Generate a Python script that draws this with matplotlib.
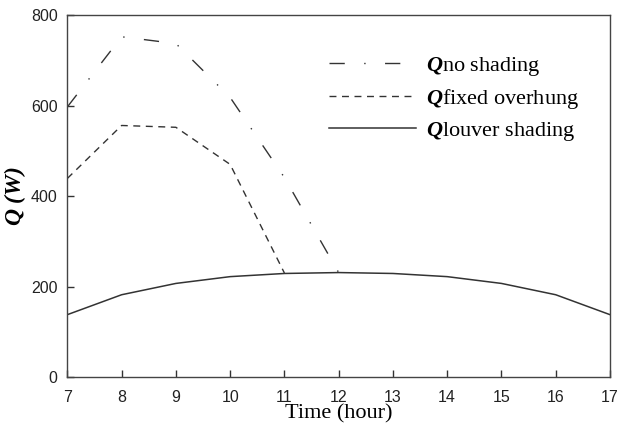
import numpy as np
import matplotlib
matplotlib.use('Agg')
import matplotlib.pyplot as plt

# Data
hours = [7, 8, 9, 10, 11, 12, 13, 14, 15, 16, 17]
hours_no = [7, 8, 9, 10, 11, 12]
q_no_shading = [597, 752, 737, 618, 441, 231]
hours_fixed = [7, 8, 9, 10, 11]
q_fixed = [439, 556, 552, 470, 230]
q_louver = [138, 182, 207, 222, 229, 231, 229, 222, 207, 182, 138]

labels = [r'$\mathbfit{Q}$no shading',
          r'$\mathbfit{Q}$fixed overhung',
          r'$\mathbfit{Q}$louver shading']

plt.rcParams['mathtext.fontset'] = 'custom'
plt.rcParams['mathtext.rm'] = 'Liberation Serif'
plt.rcParams['mathtext.bfit'] = 'Liberation Serif:bold:italic'
plt.rcParams['mathtext.it'] = 'Liberation Serif:italic'
plt.rcParams['mathtext.bf'] = 'Liberation Serif:bold'

fig = plt.figure(figsize=(6.18, 4.30), dpi=100)
ax = fig.add_axes([0.109, 0.123, 0.878, 0.842])

col = '#333333'
ax.plot(hours_no, q_no_shading, color=col, lw=1.0, linestyle=(0, (11, 14, 1, 14)), label=labels[0])
ax.plot(hours_fixed, q_fixed, color=col, lw=1.0, linestyle=(0, (5, 4)), label=labels[1])
ax.plot(hours, q_louver, color=col, lw=1.1, linestyle='-', label=labels[2])

ax.set_xlim(7, 17)
ax.set_ylim(0, 800)
ax.set_xticks(hours)
ax.set_yticks([0, 200, 400, 600, 800])
ax.tick_params(direction='in', length=5, width=1, colors='#333333', labelsize=11.5)
ax.tick_params(axis='x', pad=9)
ax.tick_params(axis='y', pad=7)
for lab in ax.get_xticklabels() + ax.get_yticklabels():
    lab.set_family('Liberation Sans')
    lab.set_color('#222222')
for s in ax.spines.values():
    s.set_color('#444444')
    s.set_linewidth(1.0)

ax.set_xlabel('Time (hour)', family='Liberation Serif', fontsize=16, labelpad=0)
ax.set_ylabel(r'$\mathbfit{Q\ (W)}$', fontsize=17, labelpad=2)

leg = ax.legend(loc='upper right', bbox_to_anchor=(0.98, 0.945), frameon=False,
                prop={'family': 'Liberation Serif', 'size': 16},
                handlelength=3.9, handletextpad=0.45, labelspacing=0.4)

fig.savefig('out.png', dpi=100)
